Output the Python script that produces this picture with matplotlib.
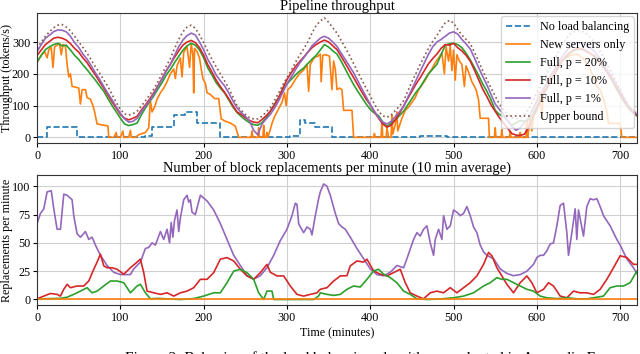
import numpy as np
import matplotlib
matplotlib.use('Agg')
import matplotlib.pyplot as plt

plt.rcParams['font.family'] = 'serif'
plt.rcParams['font.serif'] = ['Liberation Serif', 'DejaVu Serif']
plt.rcParams['font.size'] = 8.7

# values, 5 minute grid for the throughput curves
minutes = np.arange(0, 721, 5)

upper_bound = [
    280, 300, 318, 333, 345, 353, 355, 347, 335, 318,
    300, 283, 265, 243, 222, 202, 181, 160, 135, 110,
    88, 74, 70, 74, 82, 98, 115, 133, 152, 175,
    200, 224, 248, 280, 308, 332, 347, 353, 343, 322,
    298, 270, 245, 222, 200, 178, 155, 128, 100, 85,
    72, 62, 58, 58, 66, 80, 93, 115, 140, 165,
    188, 210, 235, 258, 278, 300, 328, 352, 366, 376,
    362, 345, 328, 305, 282, 258, 232, 205, 180, 155,
    130, 105, 82, 68, 63, 70, 84, 98, 115, 145,
    175, 202, 230, 255, 280, 302, 320, 342, 360, 368,
    360, 340, 322, 308, 295, 268, 240, 210, 182, 155,
    130, 105, 88, 72, 62, 58, 62, 72, 88, 112,
    140, 165, 190, 215, 240, 265, 290, 310, 325, 333,
    335, 333, 325, 312, 295, 275, 252, 228, 202, 175,
    148, 122, 100, 85, 74,
]

full_p1 = [
    270, 292, 312, 322, 333, 338, 337, 332, 318, 298,
    283, 262, 246, 225, 203, 183, 160, 138, 118, 96,
    76, 58, 48, 50, 60, 80, 98, 115, 136, 160,
    183, 208, 230, 258, 285, 306, 320, 328, 322, 300,
    275, 245, 222, 196, 178, 162, 140, 115, 93, 78,
    66, 52, 22, 8, 42, 58, 72, 92, 115, 142,
    168, 190, 212, 233, 250, 268, 288, 300, 312, 318,
    312, 300, 286, 265, 245, 224, 203, 178, 152, 128,
    103, 82, 62, 48, 42, 50, 65, 80, 98, 125,
    152, 180, 208, 235, 262, 285, 300, 308, 318, 328,
    332, 325, 308, 294, 278, 250, 220, 192, 165, 135,
    105, 88, 72, 52, 35, 22, 30, 47, 62, 88,
    115, 140, 162, 188, 210, 232, 252, 270, 285, 294,
    298, 297, 290, 280, 268, 250, 230, 210, 190, 168,
    145, 122, 100, 85, 72,
]

full_p10 = [
    258, 275, 292, 302, 312, 315, 312, 306, 295, 280,
    268, 250, 235, 215, 196, 175, 155, 133, 112, 92,
    72, 60, 55, 60, 66, 85, 102, 120, 140, 162,
    185, 210, 230, 252, 272, 290, 300, 305, 298, 282,
    258, 228, 205, 180, 160, 142, 122, 100, 80, 72,
    62, 53, 48, 46, 56, 68, 82, 102, 125, 155,
    182, 203, 222, 238, 252, 268, 282, 292, 300, 306,
    300, 288, 276, 255, 233, 210, 188, 165, 142, 120,
    102, 80, 60, 42, 32, 38, 55, 75, 98, 122,
    145, 168, 188, 210, 232, 248, 262, 280, 292, 290,
    296, 282, 272, 258, 240, 212, 182, 152, 128, 102,
    82, 62, 45, 28, 12, 7, 6, 10, 30, 62,
    88, 118, 148, 172, 196, 218, 240, 256, 268, 276,
    280, 278, 270, 262, 252, 237, 220, 202, 183, 160,
    138, 115, 95, 80, 70,
]

full_p20 = [
    237, 258, 276, 285, 292, 296, 288, 290, 275, 258,
    245, 228, 213, 196, 180, 162, 145, 122, 100, 80,
    60, 42, 37, 40, 45, 70, 92, 112, 130, 152,
    172, 196, 214, 235, 255, 274, 288, 296, 290, 275,
    250, 218, 196, 172, 155, 140, 118, 96, 78, 66,
    55, 46, 40, 38, 46, 62, 82, 104, 125, 150,
    168, 182, 196, 208, 218, 232, 246, 258, 275, 292,
    284, 272, 262, 240, 215, 190, 166, 145, 125, 105,
    88, 76, 68, 48, 34, 44, 55, 68, 82, 102,
    122, 142, 158, 180, 200, 215, 230, 260, 290, 295,
    296, 292, 282, 265, 244, 220, 195, 168, 145, 118,
    85, 72, 66, 52, 38, 46, 53, 50, 55, 72,
    95, 120, 145, 168, 192, 214, 240, 252, 266, 274,
    278, 276, 270, 262, 256, 240, 222, 202, 180, 155,
    132, 110, 92, 78, 68,
]

# (minute, tokens/s) points of the "new servers only" curve
new_servers = [
    (0, 238), (3, 250), (6, 262), (9, 270), (12, 250), (14, 275), (17, 282),
    (19, 220), (21, 285), (24, 290), (27, 295), (29, 260), (31, 292), (34, 288),
    (36, 230), (38, 190), (40, 200), (42, 160), (46, 158), (50, 155), (52, 105),
    (54, 150), (58, 150), (60, 125), (64, 120), (67, 100), (69, 80), (72, 42),
    (80, 38), (85, 36), (86, 0), (92, 0), (95, 15), (96, 0), (100, 0), (103, 20),
    (104, 0), (110, 0), (112, 22), (113, 0), (118, 0), (122, 8), (126, 12),
    (130, 15), (134, 30), (136, 115), (138, 80), (141, 95), (144, 120),
    (148, 140), (152, 155), (156, 175), (160, 200), (164, 215), (166, 185),
    (168, 225), (172, 250), (174, 190), (176, 268), (180, 285), (183, 220),
    (185, 295), (187, 260), (188, 140), (189, 280), (192, 270), (195, 250),
    (197, 215), (199, 185), (202, 170), (204, 140), (208, 135), (213, 122),
    (218, 122), (221, 58), (225, 52), (232, 45), (238, 35), (242, 0), (257, 0),
    (258, 20), (259, 0), (265, 0), (266, 30), (267, 0), (271, 0), (272, 38),
    (273, 0), (275, 0), (276, 15), (277, 0), (280, 25), (282, 44), (285, 65),
    (288, 80), (291, 95), (294, 110), (297, 140), (299, 100), (301, 150),
    (305, 160), (310, 182), (315, 200), (320, 212), (324, 230), (326, 145),
    (328, 230), (333, 252), (337, 255), (340, 262), (341, 175), (343, 258),
    (347, 260), (351, 255), (354, 150), (356, 240), (358, 215), (360, 150),
    (363, 155), (366, 150), (368, 85), (378, 85), (380, 0), (404, 0), (405, 12),
    (406, 0), (413, 0), (414, 50), (415, 0), (419, 0), (420, 30), (422, 0),
    (425, 0), (426, 70), (427, 10), (430, 40), (432, 80), (433, 20), (438, 60),
    (442, 85), (446, 95), (450, 110), (454, 125), (458, 150), (462, 165),
    (466, 180), (470, 200), (474, 215), (478, 235), (482, 250), (486, 265),
    (489, 200), (491, 285), (494, 240), (496, 290), (498, 210), (500, 275),
    (502, 180), (504, 260), (507, 240), (510, 230), (513, 160), (515, 225),
    (518, 205), (522, 175), (527, 150), (530, 118), (532, 60), (542, 60),
    (543, 0), (549, 0), (550, 30), (551, 0), (557, 0), (558, 25), (559, 0),
    (567, 0), (568, 20), (569, 0), (579, 0), (580, 15), (581, 0), (587, 0),
    (588, 55), (589, 0), (592, 60), (594, 20), (597, 85), (600, 95), (603, 140),
    (606, 60), (608, 150), (612, 170), (618, 195), (625, 225), (632, 245),
    (640, 258), (648, 262), (655, 250), (662, 225), (668, 190), (672, 160),
    (676, 150), (680, 120), (684, 80), (686, 44), (700, 44), (701, 22),
    (702, 0), (720, 0),
]
new_servers_t = [p[0] for p in new_servers]
new_servers_v = [p[1] for p in new_servers]

no_lb_t = [0, 12, 48, 130, 138, 164, 178, 192, 219, 304, 316, 322, 334, 354, 460, 492, 720]
no_lb_v = [0, 31, 0, 5, 32, 70, 80, 46, 0, 5, 54, 45, 33, 0, 5, 0, 0]

# block replacements per minute, (minute, value)
repl_p1 = [
    (0, 67), (4, 76), (8, 80), (12, 95), (17, 96), (20, 80), (24, 62), (28, 62),
    (32, 93), (36, 92), (42, 88), (44, 74), (48, 58), (52, 55), (58, 60),
    (62, 53), (66, 55), (70, 48), (76, 39), (84, 30), (92, 24), (100, 22),
    (112, 22), (116, 27), (124, 33), (130, 45), (134, 46), (138, 50), (142, 48),
    (144, 52), (148, 60), (152, 53), (156, 62), (159, 50), (161, 68), (163, 55),
    (165, 70), (168, 79), (170, 60), (172, 72), (176, 88), (180, 92), (182, 86),
    (184, 88), (186, 77), (190, 75), (196, 92), (204, 87), (212, 79), (220, 67),
    (228, 53), (236, 39), (244, 30), (252, 21), (260, 18), (268, 21), (276, 28),
    (284, 39), (292, 52), (300, 62), (306, 74), (310, 85), (312, 84), (314, 67),
    (316, 64), (320, 59), (324, 64), (328, 62), (330, 57), (334, 74), (338, 89),
    (340, 95), (344, 102), (348, 100), (352, 92), (358, 76), (362, 67),
    (366, 64), (370, 62), (376, 55), (384, 45), (392, 36), (400, 27), (408, 22),
    (416, 21), (424, 24), (432, 30), (440, 28), (444, 36), (452, 53), (456, 59),
    (460, 56), (464, 62), (468, 65), (472, 50), (476, 39), (478, 53), (482, 62),
    (486, 53), (488, 74), (492, 62), (496, 65), (500, 79), (504, 77), (508, 74),
    (512, 76), (516, 82), (520, 74), (524, 64), (528, 59), (532, 48), (536, 42),
    (540, 39), (548, 36), (556, 27), (564, 23), (572, 21), (580, 22), (588, 25),
    (596, 31), (600, 37), (604, 39), (608, 39), (612, 43), (616, 49), (620, 50),
    (624, 65), (628, 83), (632, 85), (636, 59), (638, 39), (642, 59), (646, 80),
    (648, 53), (650, 79), (656, 56), (660, 82), (664, 89), (668, 88), (672, 89),
    (676, 82), (680, 74), (688, 65), (692, 59), (696, 53), (700, 48), (708, 36),
    (716, 28), (720, 23),
]

repl_p10 = [
    (0, 0.6), (8, 3), (16, 5.3), (24, 4.5), (28, 3), (32, 9), (36, 13.4),
    (40, 10.4), (48, 11.9), (56, 11.9), (62, 16.3), (68, 26.7), (72, 33),
    (76, 40), (80, 29.7), (84, 28), (90, 28), (96, 26.7), (104, 22.3), (112, 28),
    (120, 33), (124, 35.6), (128, 23.7), (132, 7.4), (140, 5.9), (148, 4.5),
    (156, 5.9), (164, 3), (172, 5.9), (180, 7.4), (188, 10.4), (196, 17.8),
    (204, 17.8), (212, 23.7), (220, 35.6), (228, 37), (236, 34), (244, 26.7),
    (252, 20.8), (260, 17.8), (268, 23.7), (276, 31), (280, 24), (288, 20.8),
    (296, 20.8), (304, 11.9), (312, 4.5), (320, 3), (328, 4.5), (336, 5.9),
    (340, 9), (348, 10.4), (356, 16.3), (364, 20.8), (372, 21), (376, 29.7),
    (384, 34), (392, 33), (396, 35.6), (404, 25.2), (412, 22.3), (420, 20.8),
    (428, 23.7), (436, 26.7), (442, 14.8), (448, 5.9), (456, 3), (464, 0.6),
    (472, 5.9), (480, 7.4), (488, 5.9), (496, 10.4), (504, 5.9), (512, 10.4),
    (520, 14.8), (528, 20.8), (536, 31), (542, 41.5), (546, 38.6), (552, 28),
    (558, 20.8), (564, 13.4), (572, 5.9), (580, 14.8), (588, 20.8), (594, 14.8),
    (600, 5.9), (608, 9), (614, 14.8), (620, 11.9), (628, 3), (636, 1.5),
    (644, 7.4), (652, 5.9), (660, 5.9), (668, 4.5), (676, 9), (684, 17.8),
    (692, 28), (700, 38.6), (708, 37), (716, 31), (720, 31),
]

repl_p20 = [
    (0, 0.5), (28, 1), (36, 2), (44, 4.5), (52, 7.4), (60, 10.4), (66, 5.9),
    (72, 7.4), (80, 11.9), (88, 16.3), (96, 16.3), (104, 14.8), (112, 5.9),
    (120, 11.9), (124, 13.4), (130, 5.9), (136, 0.6), (144, 1), (156, 0.6),
    (172, 0), (188, 0.8), (200, 3), (212, 5.9), (220, 5.9), (228, 14.8),
    (236, 25), (244, 26.7), (252, 23.7), (260, 17.8), (266, 5.9), (272, 0),
    (276, 7.4), (282, 7.4), (284, 0), (300, 0), (332, 0), (338, 3), (340, 5.9),
    (348, 4.5), (356, 3.6), (364, 4.5), (372, 9), (380, 11.9), (388, 11),
    (396, 17.8), (404, 25.2), (410, 26.7), (416, 22.3), (424, 19.3), (432, 14.8),
    (440, 7.4), (448, 4.5), (456, 0.6), (468, 0), (484, 0.5), (500, 1.5),
    (512, 3), (524, 5.9), (536, 11.9), (544, 14.8), (552, 19.3), (558, 17.8),
    (564, 17.8), (572, 14.8), (580, 11.9), (588, 9), (596, 7.4), (604, 3),
    (612, 1.5), (624, 0.8), (636, 1.5), (648, 0.6), (660, 0.6), (668, 1.5),
    (680, 3), (688, 10.4), (696, 11.9), (704, 11.9), (712, 14.8), (720, 25),
]

repl_new = [(0, 0), (720, 0)]

C_BLUE, C_ORANGE, C_GREEN = '#1f77b4', '#ff7f0e', '#2ca02c'
C_RED, C_PURPLE, C_BROWN = '#d62728', '#9467bd', '#8c564b'

fig = plt.figure(figsize=(6.4, 3.54), dpi=100)
ax1 = fig.add_axes([0.058, 0.595, 0.937, 0.368])
ax2 = fig.add_axes([0.058, 0.138, 0.937, 0.368])

ax1.plot(no_lb_t, no_lb_v, color=C_BLUE, ls='--', lw=1.2, drawstyle='steps-post',
         label='No load balancing')
ax1.plot(new_servers_t, new_servers_v, color=C_ORANGE, lw=1.2, label='New servers only')
ax1.plot(minutes, full_p20, color=C_GREEN, lw=1.2, label='Full, p = 20%')
ax1.plot(minutes, full_p10, color=C_RED, lw=1.2, label='Full, p = 10%')
ax1.plot(minutes, full_p1, color=C_PURPLE, lw=1.2, label='Full, p = 1%')
ax1.plot(minutes, upper_bound, color=C_BROWN, ls=':', lw=1.2, label='Upper bound')
ax1.set_xlim(0, 720)
ax1.set_ylim(-19, 391)
ax1.set_yticks([0, 100, 200, 300])
ax1.set_ylabel('Throughput (tokens/s)')
ax1.set_title('Pipeline throughput', pad=2)
ax1.legend(loc='upper right', borderaxespad=0.25)

for series, col in [(repl_p1, C_PURPLE), (repl_p10, C_RED),
                    (repl_p20, C_GREEN), (repl_new, C_ORANGE)]:
    ax2.plot([p[0] for p in series], [p[1] for p in series], color=col, lw=1.2)
ax2.set_xlim(0, 720)
ax2.set_ylim(-5, 110)
ax2.set_yticks([0, 25, 50, 75, 100])
ax2.set_ylabel('Replacements per minute')
ax2.set_xlabel('Time (minutes)', labelpad=2)
ax2.set_title('Number of block replacements per minute (10 min average)', pad=2)

for ax in (ax1, ax2):
    ax.set_xticks(range(0, 701, 100))
    ax.grid(True, color='#d0d0d0', lw=0.8)
    ax.set_axisbelow(True)
    ax.tick_params(length=3, pad=2)
    ax.yaxis.set_label_coords(-0.041, 0.5)
    for s in ax.spines.values():
        s.set_color('#333333')

fig.text(0.566, 0.008, 'Figure 2: Behavior of the load balancing algorithms evaluated in Appendix E.',
         ha='center', va='top', fontsize=11)

fig.savefig('out.png', dpi=100)
